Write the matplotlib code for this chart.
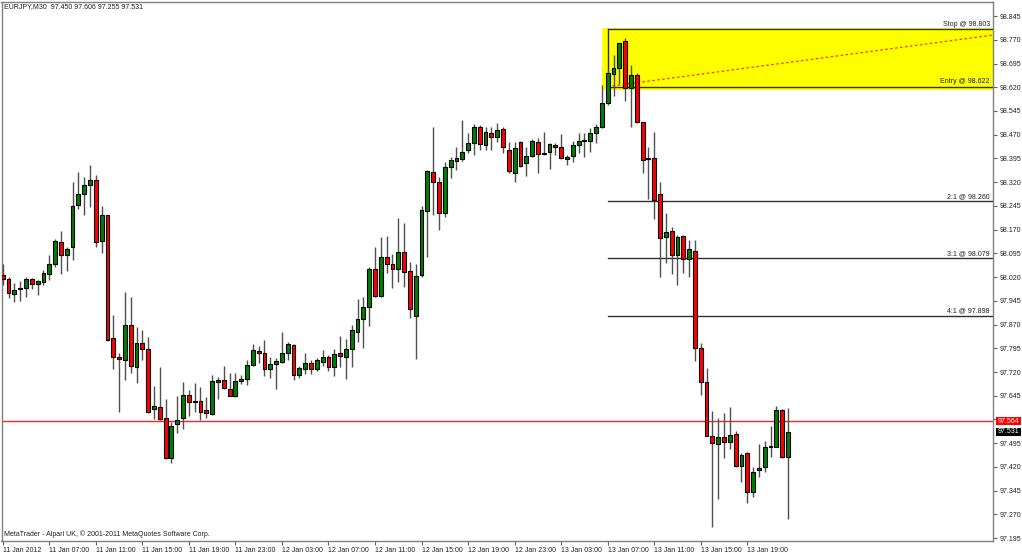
import matplotlib
matplotlib.use("Agg")
import matplotlib.pyplot as plt
from matplotlib.patches import Rectangle

FONT = ["Liberation Sans", "DejaVu Sans"]
plt.rcParams["font.family"] = FONT
FS = 5.0

title_text = "EURJPY,M30  97.450 97.606 97.255 97.531"
footer_text = "MetaTrader - Alpari UK, \u00a9 2001-2011 MetaQuotes Software Corp."

opens = [98.027, 98.015, 97.968, 97.981, 97.985, 98.013, 97.998, 98.005, 98.030, 98.060,
         98.130, 98.090, 98.115, 98.248, 98.282, 98.311, 98.326, 98.133, 98.215, 97.828,
         97.767, 97.759, 97.869, 97.736, 97.813, 97.794, 97.602, 97.610, 97.574, 97.447,
         97.556, 97.576, 97.646, 97.628, 97.628, 97.600, 97.586, 97.689, 97.695, 97.667,
         97.645, 97.693, 97.697, 97.742, 97.786, 97.779, 97.730, 97.744, 97.753, 97.781,
         97.805, 97.711, 97.729, 97.748, 97.730, 97.753, 97.767, 97.735, 97.781, 97.768,
         97.792, 97.847, 97.888, 97.925, 98.047, 97.960, 98.083, 98.060, 98.047, 98.098,
         98.039, 97.898, 98.027, 98.230, 98.351, 98.320, 98.224, 98.369, 98.388, 98.392,
         98.422, 98.443, 98.495, 98.437, 98.476, 98.464, 98.487, 98.422, 98.350, 98.446,
         98.381, 98.403, 98.446, 98.408, 98.414, 98.437, 98.430, 98.393, 98.403, 98.437,
         98.450, 98.451, 98.474, 98.493, 98.569, 98.662, 98.680, 98.767, 98.618, 98.659,
         98.511, 98.395, 98.395, 98.282, 98.148, 98.167, 98.090, 98.151, 98.076, 98.103,
         97.797, 97.689, 97.518, 97.493, 97.516, 97.500, 97.523, 97.423, 97.463, 97.342,
         97.410, 97.419, 97.482, 97.484, 97.600, 97.450]
highs = [98.061, 98.021, 98.000, 98.009, 98.021, 98.018, 98.011, 98.042, 98.091, 98.139,
         98.166, 98.115, 98.320, 98.351, 98.337, 98.375, 98.344, 98.245, 98.216, 97.900,
         97.781, 97.974, 97.956, 97.861, 97.853, 97.832, 97.676, 97.735, 97.635, 97.563,
         97.644, 97.689, 97.663, 97.686, 97.672, 97.640, 97.711, 97.703, 97.739, 97.718,
         97.718, 97.711, 97.758, 97.808, 97.803, 97.821, 97.768, 97.763, 97.847, 97.814,
         97.808, 97.739, 97.779, 97.758, 97.763, 97.790, 97.774, 97.792, 97.834, 97.823,
         97.869, 97.950, 97.956, 98.053, 98.116, 98.148, 98.150, 98.093, 98.206, 98.192,
         98.069, 98.060, 98.245, 98.358, 98.495, 98.335, 98.385, 98.400, 98.430, 98.516,
         98.476, 98.503, 98.501, 98.493, 98.493, 98.506, 98.495, 98.448, 98.448, 98.451,
         98.430, 98.455, 98.459, 98.479, 98.445, 98.443, 98.471, 98.406, 98.451, 98.474,
         98.474, 98.490, 98.503, 98.627, 98.674, 98.722, 98.761, 98.775, 98.690, 98.666,
         98.511, 98.432, 98.479, 98.321, 98.222, 98.179, 98.153, 98.153, 98.137, 98.137,
         97.813, 97.732, 97.598, 97.574, 97.590, 97.609, 97.535, 97.463, 97.468, 97.419,
         97.493, 97.502, 97.549, 97.613, 97.602, 97.606]
lows = [97.995, 97.953, 97.942, 97.944, 97.958, 97.983, 97.963, 97.995, 98.012, 98.053,
        98.030, 98.040, 98.074, 98.234, 98.215, 98.242, 98.116, 98.095, 97.818, 97.731,
        97.595, 97.695, 97.717, 97.684, 97.758, 97.590, 97.572, 97.567, 97.445, 97.434,
        97.528, 97.539, 97.581, 97.595, 97.568, 97.574, 97.584, 97.636, 97.665, 97.644,
        97.642, 97.681, 97.679, 97.739, 97.748, 97.707, 97.700, 97.665, 97.748, 97.758,
        97.695, 97.700, 97.714, 97.714, 97.724, 97.739, 97.724, 97.707, 97.737, 97.697,
        97.737, 97.816, 97.795, 97.866, 97.956, 97.958, 98.034, 97.985, 98.004, 97.990,
        97.890, 97.760, 98.021, 98.084, 98.216, 98.169, 98.209, 98.332, 98.358, 98.388,
        98.411, 98.406, 98.422, 98.422, 98.422, 98.448, 98.411, 98.350, 98.321, 98.367,
        98.339, 98.400, 98.350, 98.407, 98.362, 98.406, 98.392, 98.374, 98.385, 98.411,
        98.400, 98.416, 98.445, 98.491, 98.564, 98.592, 98.630, 98.577, 98.495, 98.506,
        98.350, 98.266, 98.203, 98.021, 98.064, 98.030, 97.995, 98.032, 98.021, 97.755,
        97.647, 97.517, 97.229, 97.318, 97.447, 97.476, 97.421, 97.373, 97.305, 97.324,
        97.387, 97.405, 97.452, 97.482, 97.447, 97.255]
closes = [98.014, 97.969, 97.978, 97.987, 98.013, 97.998, 98.008, 98.034, 98.061, 98.135,
          98.090, 98.108, 98.245, 98.283, 98.312, 98.326, 98.130, 98.215, 97.821, 97.767,
          97.760, 97.869, 97.738, 97.813, 97.792, 97.595, 97.613, 97.571, 97.447, 97.550,
          97.568, 97.646, 97.625, 97.625, 97.595, 97.592, 97.692, 97.696, 97.669, 97.645,
          97.693, 97.699, 97.741, 97.790, 97.779, 97.729, 97.745, 97.755, 97.779, 97.808,
          97.710, 97.732, 97.748, 97.730, 97.758, 97.768, 97.737, 97.777, 97.772, 97.792,
          97.853, 97.888, 97.926, 98.046, 97.960, 98.083, 98.060, 98.045, 98.098, 98.037,
          97.918, 98.024, 98.232, 98.356, 98.321, 98.224, 98.369, 98.390, 98.396, 98.415,
          98.443, 98.495, 98.441, 98.479, 98.464, 98.485, 98.432, 98.356, 98.429, 98.371,
          98.403, 98.451, 98.409, 98.412, 98.441, 98.430, 98.395, 98.400, 98.437, 98.450,
          98.452, 98.474, 98.495, 98.571, 98.664, 98.680, 98.759, 98.617, 98.659, 98.511,
          98.390, 98.393, 98.264, 98.143, 98.163, 98.090, 98.148, 98.076, 98.108, 97.797,
          97.688, 97.518, 97.495, 97.514, 97.500, 97.521, 97.423, 97.458, 97.342, 97.403,
          97.416, 97.484, 97.486, 97.600, 97.450, 97.531]

time_labels = ["11 Jan 2012", "11 Jan 07:00", "11 Jan 11:00", "11 Jan 15:00", "11 Jan 19:00",
               "11 Jan 23:00", "12 Jan 03:00", "12 Jan 07:00", "12 Jan 11:00", "12 Jan 15:00",
               "12 Jan 19:00", "12 Jan 23:00", "13 Jan 03:00", "13 Jan 07:00", "13 Jan 11:00",
               "13 Jan 15:00", "13 Jan 19:00"]
time_label_bars = [0, 8, 16, 24, 32, 40, 48, 56, 64, 72, 80, 88, 96, 104, 112, 120, 128]

price_ticks = [98.845, 98.770, 98.695, 98.620, 98.545, 98.470, 98.395, 98.320, 98.245,
               98.170, 98.095, 98.020, 97.945, 97.870, 97.795, 97.720, 97.645, 97.570,
               97.495, 97.420, 97.345, 97.270, 97.195]

stop_price = 98.803
entry_price = 98.622
box_top = 98.807
box_bottom = 98.611
box_start_bar = 103
lines_start_bar = 104
target_labels = ["2:1 @ 98.260", "3:1 @ 98.079", "4:1 @ 97.898"]
target_prices = [98.260, 98.079, 97.898]
trend_end_price = 98.785
bid_line = 97.564
last_price = 97.531

W, H = 1022, 553
fig = plt.figure(figsize=(W / 100, H / 100), dpi=100)
fig.patch.set_facecolor("white")
ax_left, ax_right, ax_top, ax_bottom = 1.5, 993.0, 1.5, 541.0
ax = fig.add_axes([ax_left / W, (H - ax_bottom) / H, (ax_right - ax_left) / W, (ax_bottom - ax_top) / H])
ax.set_facecolor("white")
ax.set_xlim(-0.21, 170.24)
ax.set_ylim(97.186, 98.891)

n = len(opens)
xs = list(range(n))

# yellow box and lines
ax.add_patch(Rectangle((box_start_bar, box_bottom), 200, box_top - box_bottom,
                       facecolor="#ffff00", edgecolor="none", zorder=1))
ax.plot([lines_start_bar, 171], [stop_price, stop_price], color="#303030", lw=1.0, zorder=2)
ax.plot([lines_start_bar, 171], [entry_price, entry_price], color="#303030", lw=1.0, zorder=2)
ax.plot([lines_start_bar, lines_start_bar], [entry_price, stop_price], color="#303030", lw=1.0, zorder=2)
ax.plot([lines_start_bar, 170.24], [entry_price, trend_end_price], color="#ff3000", lw=0.9,
        ls=(0, (2, 2)), zorder=2)
for p in target_prices:
    ax.plot([lines_start_bar, 171], [p, p], color="#303030", lw=1.0, zorder=2)

ax.axhline(bid_line, color="#ff2020", lw=1.0, zorder=2)

# candles
for i in xs:
    ax.plot([i, i], [lows[i], highs[i]], color="#505050", lw=1.0, zorder=3, solid_capstyle="butt")
for i in xs:
    o, c = opens[i], closes[i]
    col = "#008000" if c > o else "#ff0000"
    bot = min(o, c)
    hgt = max(abs(c - o), 0.0015)
    ax.add_patch(Rectangle((i - 0.33, bot), 0.66, hgt, facecolor=col, edgecolor="black",
                           lw=0.8, zorder=4))

# labels for levels
lab_x = 169.7
ax.text(lab_x, stop_price + 0.004, "Stop @ 98.803", ha="right", va="bottom", fontsize=FS, color="#202020", zorder=5)
ax.text(lab_x, entry_price + 0.004, "Entry @ 98.622", ha="right", va="bottom", fontsize=FS, color="#202020", zorder=5)
for p, t in zip(target_prices, target_labels):
    ax.text(lab_x, p + 0.004, t, ha="right", va="bottom", fontsize=FS, color="#202020", zorder=5)

# axes styling
for s in ax.spines.values():
    s.set_color("#808080")
    s.set_linewidth(1.0)
ax.yaxis.tick_right()
ax.set_yticks(price_ticks)
ax.set_yticklabels(["%.3f" % v for v in price_ticks])
ax.tick_params(axis="y", length=3, width=0.8, color="#606060", labelsize=FS, pad=1.5, labelcolor="#202020")
ax.set_xticks(time_label_bars)
ax.set_xticklabels(time_labels, ha="left")
ax.tick_params(axis="x", length=3, width=0.8, color="#606060", labelsize=FS, pad=1.0, labelcolor="#202020")

# price tags
def pix_y(price):
    y0, y1 = ax.get_ylim()
    return ax_bottom - (price - y0) / (y1 - y0) * (ax_bottom - ax_top)

for price, bg in ((bid_line, "#ff0000"), (last_price, "#000000")):
    yy = pix_y(price)
    fig.patches.append(Rectangle((995.5 / W, (H - yy - 4) / H), 25 / W, 8 / H,
                                 transform=fig.transFigure, facecolor=bg, edgecolor="none", zorder=5))
    fig.text(997.5 / W, (H - yy) / H, "%.3f" % price, ha="left", va="center", fontsize=FS,
             color="white", zorder=6)

fig.text(4 / W, 1 - 7 / H, title_text, ha="left", va="center", fontsize=FS, color="#202020")
fig.text(4 / W, 1 - 534 / H, footer_text, ha="left", va="center", fontsize=FS, color="#202020")

fig.savefig("out.png", dpi=100, facecolor="white")
